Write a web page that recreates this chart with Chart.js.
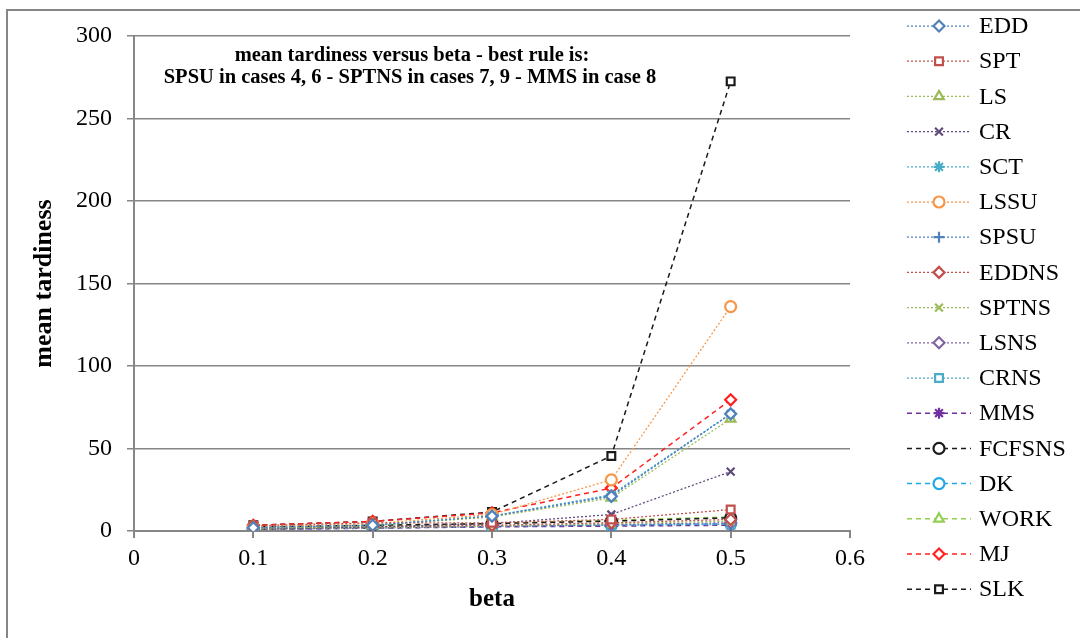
<!DOCTYPE html>
<html lang="en">
  <head>
    <meta charset="UTF-8" />
    <title>mean tardiness versus beta</title>
    <script src="https://cdn.jsdelivr.net/npm/chart.js"></script>
    <style>
      * {
        margin: 0;
        padding: 0;
      }
      body {
        background: #fff;
        width: 1080px;
        height: 638px;
        overflow: hidden;
      }
      #wrap {
        position: relative;
        width: 1080px;
        height: 638px;
      }
    </style>
  </head>
  <body>
    <div id="wrap"><canvas id="chart"></canvas></div>

    <script>
      // beta values on the x axis
      const beta = [0.1, 0.2, 0.3, 0.4, 0.5];

      // mean tardiness per rule
      const EDD = [2.0, 3.5, 9.0, 21.0, 71.0];
      const SPT = [3.2, 5.0, 5.0, 7.0, 13.0];
      const LS = [1.5, 3.3, 8.5, 20.0, 68.0];
      const CR = [1.2, 2.5, 4.5, 10.0, 36.0];
      const SCT = [2.0, 3.5, 9.0, 22.0, 71.0];
      const LSSU = [2.5, 4.5, 10.0, 31.0, 136.0];
      const SPSU = [1.8, 3.4, 9.0, 21.5, 71.0];
      const EDDNS = [1.5, 2.5, 3.5, 5.0, 7.0];
      const SPTNS = [1.2, 2.0, 3.0, 4.5, 6.0];
      const LSNS = [1.0, 1.8, 2.8, 4.0, 5.0];
      const CRNS = [1.0, 1.8, 2.8, 3.5, 4.0];
      const MMS = [1.0, 1.7, 2.5, 3.0, 3.5];
      const FCFSNS = [2.5, 3.5, 4.5, 6.0, 8.0];
      const DK = [1.0, 1.8, 2.8, 3.5, 4.5];
      const WORK = [1.5, 2.8, 4.5, 6.5, 8.5];
      const MJ = [3.5, 5.8, 11.0, 26.0, 79.5];
      const SLK = [3.5, 5.8, 11.5, 45.5, 272.5];

      const xTicks = [0, 0.1, 0.2, 0.3, 0.4, 0.5, 0.6];
      const yTicks = [0, 50, 100, 150, 200, 250, 300];

      const titleLines = [
        "mean tardiness versus beta - best rule is:",
        "SPSU in cases 4, 6 - SPTNS in cases 7, 9 - MMS in case 8",
      ];

      const serif = "'Liberation Serif', 'Times New Roman', serif";
      const dotted = [2, 2];
      const dashed = [5, 4];

      // name, values, colour, marker, dash
      const rules = [
        ["EDD", EDD, "#4F81BD", "rectRot", dotted],
        ["SPT", SPT, "#C0504D", "rect", dotted],
        ["LS", LS, "#9BBB59", "triangle", dotted],
        ["CR", CR, "#604A7B", "crossRot", dotted],
        ["SCT", SCT, "#4BACC6", "star", dotted],
        ["LSSU", LSSU, "#F79646", "circle", dotted],
        ["SPSU", SPSU, "#4F81BD", "cross", dotted],
        ["EDDNS", EDDNS, "#C0504D", "rectRot", dotted],
        ["SPTNS", SPTNS, "#9BBB59", "crossRot", dotted],
        ["LSNS", LSNS, "#8064A2", "rectRot", dotted],
        ["CRNS", CRNS, "#4BACC6", "rect", dotted],
        ["MMS", MMS, "#7030A0", "star", dashed],
        ["FCFSNS", FCFSNS, "#1a1a1a", "circle", dashed],
        ["DK", DK, "#1FA8E8", "circle", dashed],
        ["WORK", WORK, "#92D050", "triangle", dashed],
        ["MJ", MJ, "#FF2020", "rectRot", dashed],
        ["SLK", SLK, "#1a1a1a", "rect", dashed],
      ];

      const datasets = rules.map(([name, vals, color, marker, dash]) => ({
        label: name,
        data: vals.map((v, i) => ({ x: beta[i], y: v })),
        borderColor: color,
        backgroundColor: "#fff",
        borderWidth: dash === dashed ? 1.5 : 1.25,
        borderDash: dash,
        pointStyle: marker,
        pointRadius: 5.5,
        pointBorderWidth: 2.2,
        pointBorderColor: color,
        pointBackgroundColor: "#fff",
        tension: 0,
        fill: false,
      }));

      // frame + title inside the plot + right-hand legend
      const decor = {
        id: "decor",
        beforeDraw(chart) {
          const ctx = chart.ctx;
          ctx.save();
          ctx.strokeStyle = "#868686";
          ctx.lineWidth = 2;
          ctx.beginPath();
          ctx.moveTo(7, 640);
          ctx.lineTo(7, 10);
          ctx.lineTo(1082, 10);
          ctx.stroke();
          ctx.restore();
        },
        afterDraw(chart) {
          const ctx = chart.ctx;
          ctx.save();
          ctx.fillStyle = "#000";
          ctx.textAlign = "center";
          ctx.textBaseline = "middle";
          ctx.font = "bold 20.5px " + serif;
          ctx.fillText(titleLines[0], 412, 56);
          ctx.fillText(titleLines[1], 410, 78);

          ctx.textAlign = "left";
          ctx.font = "24px " + serif;
          rules.forEach(([name, , color, marker, dash], i) => {
            const y = 26 + i * 35.2;
            ctx.strokeStyle = color;
            ctx.lineWidth = dash === dashed ? 1.5 : 1.25;
            ctx.setLineDash(dash);
            ctx.beginPath();
            ctx.moveTo(907, y);
            ctx.lineTo(971, y);
            ctx.stroke();
            ctx.setLineDash([]);
            ctx.fillStyle = "#fff";
            ctx.lineWidth = 2.2;
            Chart.helpers.drawPoint(
              ctx,
              { pointStyle: marker, radius: 5.5, borderWidth: 2.2, rotation: 0 },
              939,
              y
            );
            ctx.fillStyle = "#000";
            ctx.fillText(name, 979, y + 1);
          });
          ctx.restore();
        },
      };

      new Chart(document.getElementById("chart"), {
        type: "line",
        data: { datasets },
        options: {
          responsive: true,
          maintainAspectRatio: false,
          animation: false,
          layout: { padding: { left: 0, right: 230, top: 36, bottom: 0 } },
          plugins: {
            legend: { display: false },
            tooltip: { enabled: false },
          },
          scales: {
            x: {
              type: "linear",
              min: 0,
              max: 0.6,
              afterFit: (s) => {
                s.height = 107;
              },
              afterBuildTicks: (s) => {
                s.ticks = xTicks.map((v) => ({ value: v }));
              },
              ticks: {
                color: "#000",
                font: { family: serif, size: 24 },
                padding: 6,
                maxRotation: 0,
                callback: (v) => String(Math.round(v * 10) / 10),
              },
              grid: {
                drawOnChartArea: false,
                drawTicks: true,
                tickLength: 7,
                color: "#868686",
                lineWidth: 2,
              },
              border: { color: "#868686", width: 2 },
              title: {
                display: true,
                text: "beta",
                color: "#000",
                font: { family: serif, size: 25, weight: "bold" },
                padding: { top: 0, bottom: 23 },
              },
            },
            y: {
              min: 0,
              max: 300,
              afterFit: (s) => {
                s.width = 134;
              },
              afterBuildTicks: (s) => {
                s.ticks = yTicks.map((v) => ({ value: v }));
              },
              ticks: {
                color: "#000",
                font: { family: serif, size: 24 },
                padding: 15,
              },
              grid: {
                color: "#868686",
                lineWidth: 1.5,
                drawTicks: true,
                tickLength: 7,
              },
              border: { color: "#868686", width: 2 },
              title: {
                display: true,
                text: "mean tardiness",
                color: "#000",
                font: { family: serif, size: 26, weight: "bold" },
                padding: { top: 29, bottom: 0 },
              },
            },
          },
        },
        plugins: [decor],
      });
    </script>
  </body>
</html>
